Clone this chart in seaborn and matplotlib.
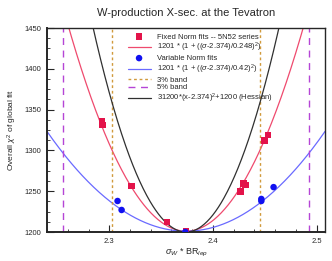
import numpy as np
import pandas as pd
import seaborn as sns
import matplotlib.pyplot as plt
from matplotlib.ticker import MultipleLocator

# values
fixed_x = [2.293, 2.2935, 2.3212, 2.3556, 2.374, 2.4266, 2.4295, 2.4312, 2.4495, 2.4528]
fixed_chi2 = [1336, 1331, 1256.5, 1212, 1200.5, 1249.5, 1259.5, 1257.5, 1312, 1319]

var_x = [2.308, 2.3119, 2.3733, 2.4466, 2.4466, 2.4584]
var_chi2 = [1238, 1227, 1200, 1240.5, 1238, 1255]

center = 2.374
chi2_min = 1201
width_fixed = 0.248
width_var = 0.42
hessian_k = 31200
bands = [0.03, 0.05]

sns.set_style("ticks")
plt.rcParams['font.family'] = ['Liberation Sans', 'DejaVu Sans']
plt.rcParams['mathtext.fontset'] = 'custom'
plt.rcParams['mathtext.rm'] = 'Liberation Sans'
plt.rcParams['mathtext.it'] = 'Liberation Sans:italic'

fig = plt.figure(figsize=(3.32, 2.61), dpi=100)
ax = fig.add_axes([0.1416, 0.1111, 0.8374, 0.7816])

xs = np.linspace(2.24, 2.508, 400)
curves = pd.DataFrame({
    "x": xs,
    "fixed": chi2_min * (1 + ((xs - center) / width_fixed) ** 2),
    "var": chi2_min * (1 + ((xs - center) / width_var) ** 2),
    "hess": hessian_k * (xs - center) ** 2 + 1200,
})

sns.scatterplot(x=fixed_x, y=fixed_chi2, marker="s", s=22, color="#e3134a",
                edgecolor="none", ax=ax, label="Fixed Norm fits -- 5N52 series", zorder=5)
sns.lineplot(data=curves, x="x", y="fixed", color="#ef4a6e", lw=0.9, ax=ax,
             label=r"1201 * (1 + (($\sigma$-2.374)/0.248)$^2$)")
sns.scatterplot(x=var_x, y=var_chi2, marker="o", s=22, color="#1010f0",
                edgecolor="none", ax=ax, label="Variable Norm fits", zorder=6)
sns.lineplot(data=curves, x="x", y="var", color="#6a6aff", lw=0.9, ax=ax,
             label=r"1201 * (1 + (($\sigma$-2.374)/0.42)$^2$)")

ax.axvline(center * (1 - bands[0]), color="#d19a3c", ls=(0, (2, 2)), lw=1.0, label="3% band")
ax.axvline(center * (1 + bands[0]), color="#d19a3c", ls=(0, (2, 2)), lw=1.0)
ax.axvline(center * (1 - bands[1]), color="#b545d6", ls=(0, (5, 4)), lw=1.0, label="5% band")
ax.axvline(center * (1 + bands[1]), color="#b545d6", ls=(0, (5, 4)), lw=1.0)

sns.lineplot(data=curves, x="x", y="hess", color="#303030", lw=0.9, ax=ax,
             label=r"31200*(x-2.374)$^2$+1200 (Hessian)")

ax.set_xlim(2.24, 2.508)
ax.set_ylim(1200, 1450)
ax.xaxis.set_major_locator(MultipleLocator(0.1))
ax.xaxis.set_minor_locator(MultipleLocator(0.02))
ax.yaxis.set_major_locator(MultipleLocator(50))
ax.yaxis.set_minor_locator(MultipleLocator(12.5))
ax.tick_params(which="both", direction="in", labelsize=5.5, pad=4)
ax.tick_params(which="major", length=5, width=0.8)
ax.tick_params(which="minor", length=2.5, width=0.6)
for s in ax.spines.values():
    s.set_linewidth(1.0)
ax.spines["left"].set_linewidth(1.4)
ax.spines["bottom"].set_linewidth(1.4)

ax.set_title("W-production X-sec. at the Tevatron", fontsize=8, pad=9)
ax.set_xlabel(r"$\sigma_W$ * BR$_{lep}$", fontsize=6.5, labelpad=2)
ax.set_ylabel(r"Overall $\chi^2$ of global fit", fontsize=6, labelpad=4)

ax.legend(loc="upper center", bbox_to_anchor=(0.55, 1.0), frameon=False, fontsize=5.5,
          handlelength=3.0, handletextpad=0.8, labelspacing=0.05, borderaxespad=0.3)

fig.savefig("out.png", dpi=100)
